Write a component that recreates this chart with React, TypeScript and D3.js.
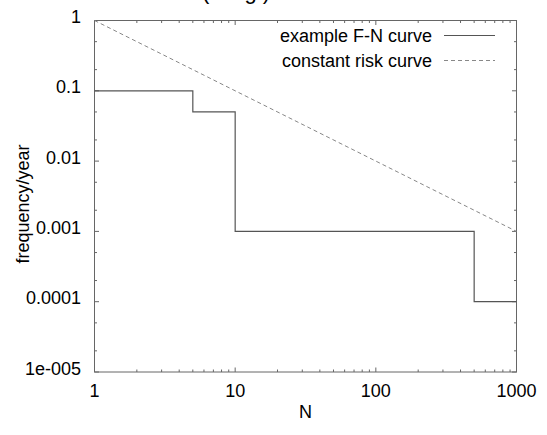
import React from "react";
import * as d3 from "d3";

const stepN = [1, 5, 10, 500, 1000];
const stepF = [0.1, 0.05, 0.001, 0.0001, 0.0001];
const riskN = [1, 1000];
const riskF = [1, 0.001];
const xTicks = [1, 10, 100, 1000];
const xTickLabels = ["1", "10", "100", "1000"];
const yTicks = [1, 0.1, 0.01, 0.001, 0.0001, 0.00001];
const yTickLabels = ["1", "0.1", "0.01", "0.001", "0.0001", "1e-005"];
const legendLabels = ["example F-N curve", "constant risk curve"];

const W = 547, H = 435;
const L = 94.5, R = 516.5, T = 20.5, B = 372;
const FONT = "'Liberation Sans', Arial, sans-serif";
const AXIS = "#666";

export default function App() {
  const x = d3.scaleLog().domain([1, 1000]).range([L, R]);
  const y = d3.scaleLog().domain([0.00001, 1]).range([B, T]);

  const xMinor: number[] = [];
  for (let d = 1; d < 1000; d *= 10) for (let k = 2; k <= 9; k++) xMinor.push(d * k);
  const yMinor: number[] = [];
  for (let d = 0.00001; d < 0.9; d *= 10) for (const k of [2, 5]) yMinor.push(d * k);

  const stepPts = stepN.map((n, i) => [n, stepF[i]] as [number, number]);
  const riskPts = riskN.map((n, i) => [n, riskF[i]] as [number, number]);
  const stepLine = d3.line<[number, number]>().x(d => x(d[0])).y(d => y(d[1])).curve(d3.curveStepAfter);
  const line = d3.line<[number, number]>().x(d => x(d[0])).y(d => y(d[1]));

  const MAJ = 4.5, MIN = 2.5;

  return (
    <svg width={W} height={H} style={{ position: "absolute", left: 0, top: 0, background: "#fff" }} fontFamily={FONT}>
      <rect x={0} y={0} width={W} height={H} fill="#fff" />
      <text x={236} y={-1} fontSize={22} textAnchor="middle" fill="#000" textLength={68}>(log)</text>
      {/* ticks */}
      <g stroke={AXIS} strokeWidth={1}>
        {xTicks.map(t => (
          <g key={"xt" + t}>
            <line x1={x(t)} x2={x(t)} y1={B} y2={B - MAJ} />
            <line x1={x(t)} x2={x(t)} y1={T} y2={T + MAJ} />
          </g>
        ))}
        {xMinor.map(t => (
          <g key={"xm" + t}>
            <line x1={x(t)} x2={x(t)} y1={B} y2={B - MIN} />
            <line x1={x(t)} x2={x(t)} y1={T} y2={T + MIN} />
          </g>
        ))}
        {yTicks.map(t => (
          <g key={"yt" + t}>
            <line x1={L} x2={L + MAJ} y1={y(t)} y2={y(t)} />
            <line x1={R} x2={R - MAJ} y1={y(t)} y2={y(t)} />
          </g>
        ))}
        {yMinor.map(t => (
          <g key={"ym" + t}>
            <line x1={L} x2={L + MIN} y1={y(t)} y2={y(t)} />
            <line x1={R} x2={R - MIN} y1={y(t)} y2={y(t)} />
          </g>
        ))}
      </g>
      <rect x={L} y={T} width={R - L} height={B - T} fill="none" stroke={AXIS} strokeWidth={1} />
      {/* data */}
      <path d={line(riskPts) || ""} fill="none" stroke="#888" strokeWidth={1} strokeDasharray="4,3" />
      <path d={stepLine(stepPts) || ""} fill="none" stroke="#555" strokeWidth={1.2} />
      {/* tick labels */}
      {yTicks.map((t, i) => (
        <text key={"yl" + t} x={81} y={y(t) + 2.5} fontSize={18} textAnchor="end" fill="#000">{yTickLabels[i]}</text>
      ))}
      {xTicks.map((t, i) => (
        <text key={"xl" + t} x={x(t)} y={397} fontSize={18} textAnchor="middle" fill="#000">{xTickLabels[i]}</text>
      ))}
      <text x={305.5} y={418} fontSize={18} textAnchor="middle" fill="#000">N</text>
      <text transform={`translate(29,204) rotate(-90)`} fontSize={18} textAnchor="middle" fill="#000">frequency/year</text>
      {/* legend */}
      <text x={432} y={41.5} fontSize={18} textAnchor="end" fill="#000">{legendLabels[0]}</text>
      <line x1={444} x2={495} y1={35.5} y2={35.5} stroke="#555" strokeWidth={1.2} />
      <text x={432} y={66.5} fontSize={18} textAnchor="end" fill="#000">{legendLabels[1]}</text>
      <line x1={444} x2={495} y1={60.5} y2={60.5} stroke="#888" strokeWidth={1} strokeDasharray="4,3" />
    </svg>
  );
}
